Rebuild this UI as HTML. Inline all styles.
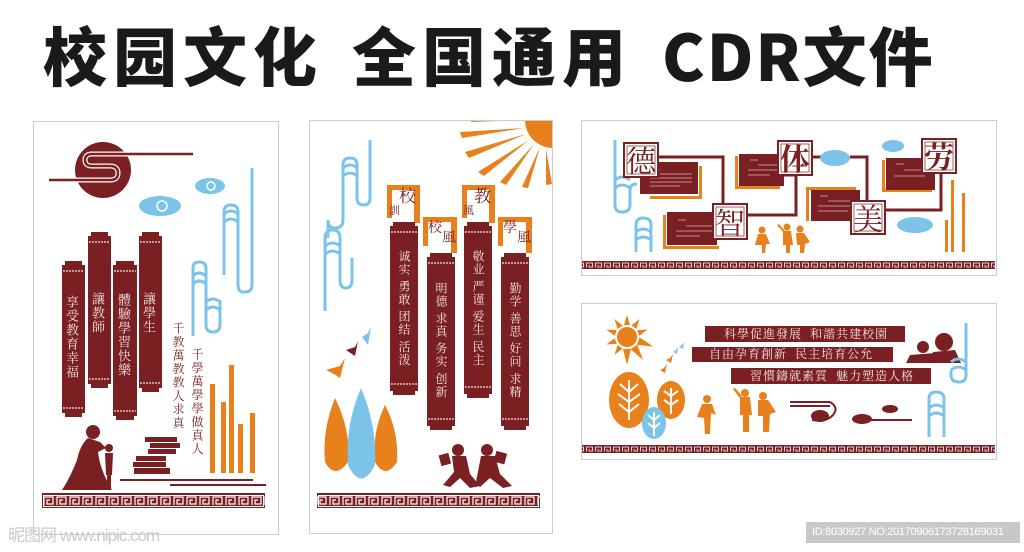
<!DOCTYPE html>
<html><head><meta charset="utf-8"><style>
body{margin:0;width:1024px;height:552px;overflow:hidden;background:#fff;position:relative;font-family:"Liberation Sans","Noto Sans CJK SC",sans-serif}
.t{position:absolute;top:17px;font-family:"Noto Sans CJK SC","WenQuanYi Zen Hei",sans-serif;font-weight:900;font-size:64px;line-height:74px;color:#1a1a1a;letter-spacing:6px;white-space:nowrap}
.v{position:absolute;writing-mode:vertical-rl;font-family:"Noto Serif CJK SC","Noto Sans CJK TC",serif;white-space:nowrap;line-height:1}
.w{color:#f3e3e3}
.r{color:#7a1f22}
.b{position:absolute;font-family:"Noto Serif CJK SC","Noto Sans CJK TC",serif;color:#f3e3e3;font-size:12px;line-height:16px;white-space:nowrap;letter-spacing:1px}
.f{position:absolute;font-family:"Noto Serif CJK SC",serif;color:#7a1f22;line-height:1}
</style></head><body>
<svg width="1024" height="552" style="position:absolute;left:0;top:0">
<defs>
<pattern id="gk" width="13" height="15" patternUnits="userSpaceOnUse" x="42" y="493">
<rect width="13" height="15" fill="#7a1f22"/><path d="M2 12V4H11V11H5V7H8" stroke="#fff" fill="none" stroke-width="1.2"/></pattern>
<pattern id="gk2" width="9" height="8" patternUnits="userSpaceOnUse" y="261">
<rect width="9" height="8" fill="#7a1f22"/><path d="M1.5 6.5V2H7.5V6H4V4" stroke="#fff" fill="none" stroke-width=".8"/></pattern>
<pattern id="gk3" width="9" height="8" patternUnits="userSpaceOnUse" y="445">
<rect width="9" height="8" fill="#7a1f22"/><path d="M1.5 6.5V2H7.5V6H4V4" stroke="#fff" fill="none" stroke-width=".8"/></pattern>
<clipPath id="p2"><rect x="310" y="121" width="242" height="412"/></clipPath>
</defs>
<rect x="33.5" y="121.5" width="245" height="413" fill="#fff" stroke="#ccc"/>
<rect x="309.5" y="120.5" width="243" height="413" fill="#fff" stroke="#ccc"/>
<rect x="581.5" y="120.5" width="415" height="155" fill="#fff" stroke="#ccc"/>
<rect x="581.5" y="303.5" width="415" height="156" fill="#fff" stroke="#ccc"/>

<circle cx="103" cy="170" r="28" fill="#7a1f22"/>
<path d="M49 180H110Q118 180 118 173Q118 166 110 166H92Q85 166 85 160Q85 154 92 154H193" stroke="#fff" stroke-width="5" fill="none"/>
<path d="M49 180H110Q118 180 118 173Q118 166 110 166H92Q85 166 85 160Q85 154 92 154H193" stroke="#7a1f22" stroke-width="2.5" fill="none"/>
<g fill="#7cc3ea"><ellipse cx="160" cy="206" rx="21" ry="10"/><ellipse cx="210" cy="186" rx="15" ry="8"/></g>
<g fill="none" stroke="#fff" stroke-width="1.5"><circle cx="162" cy="206" r="5"/><circle cx="211" cy="186" r="4"/></g>
<g fill="none" stroke="#7cc3ea" stroke-width="3">
<path d="M252 168V285Q252 292 245 292H243Q238 292 238 284V212Q238 205 231 205Q224 205 224 212V275"/>
<path d="M224 214Q231 208 238 214M224 222Q231 216 238 222"/>
<path d="M193 336V268Q193 262 199 262Q206 262 206 268V325Q206 332 213 332Q220 332 220 325V300"/>
<path d="M206 302Q213 296 220 302M206 310Q213 304 220 310"/>
<path d="M193 276Q199 270 206 276M193 284Q199 278 206 284"/>
</g>
<g fill="#e8801c">
<rect x="210" y="384" width="5" height="89"/><rect x="221" y="402" width="5" height="71"/><rect x="229" y="365" width="5" height="108"/><rect x="238" y="424" width="5" height="49"/><rect x="250" y="413" width="5" height="60"/></g>
<g fill="#7a1f22">
<rect x="65" y="261" width="17" height="5"/><rect x="62" y="265" width="23" height="148"/><rect x="65" y="412" width="17" height="5"/>
<rect x="91" y="232" width="17" height="5"/><rect x="88" y="236" width="23" height="148"/><rect x="91" y="383" width="17" height="5"/>
<rect x="116" y="261" width="18" height="5"/><rect x="113" y="265" width="24" height="151"/><rect x="116" y="415" width="18" height="5"/>
<rect x="142" y="232" width="17" height="5"/><rect x="139" y="236" width="23" height="152"/><rect x="142" y="387" width="17" height="5"/>
<circle cx="93" cy="432" r="7"/><path d="M88 438Q80 445 77 460Q70 478 62 490H112Q100 470 98 452L106 448L100 442Z"/>
<circle cx="109" cy="448" r="4"/><path d="M105 453H113L112 475H111V490H107V475H106Z"/>
<rect x="145" y="437" width="32" height="5"/><rect x="150" y="443" width="30" height="5"/><rect x="148" y="449" width="28" height="5"/><rect x="136" y="456" width="30" height="5"/><rect x="133" y="462" width="33" height="5"/><rect x="134" y="468" width="36" height="6"/>
<rect x="120" y="479" width="133" height="2"/><rect x="170" y="484" width="96" height="2"/>
</g>
<g stroke="#f3e3e3" stroke-width="1.3" stroke-dasharray="2 1">
<path d="M63 271H84M63 408H84M89 242H110M89 379H110M114 271H136M114 411H136M140 242H161M140 383H161"/></g>
<rect x="42" y="493" width="223" height="15" fill="url(#gk)"/>
<rect x="43.5" y="495.5" width="220" height="11" fill="none" stroke="#fff" stroke-width="1"/>

<g fill="#e8801c" clip-path="url(#p2)">
<circle cx="553" cy="120" r="28"/>
<polygon points="524,128 460,132 462,138"/><polygon points="526,134 465,152 469,158"/><polygon points="529,140 478,172 484,176"/><polygon points="534,144 500,182 506,185"/><polygon points="540,147 522,187 528,188"/><polygon points="546,149 546,185 552,184"/><polygon points="525,120 472,116 471,122"/>
</g>
<g fill="none" stroke="#7cc3ea" stroke-width="3">
<path d="M370 140V198Q370 205 364 205Q357 205 357 198V165Q357 158 350 158Q343 158 343 165V220Q343 228 335 228Q328 228 328 220V238"/>
<path d="M343 168Q350 162 357 168M343 176Q350 170 357 176"/>
<path d="M325 311V238Q325 230 333 230Q340 230 340 238V280Q340 288 346 288Q352 288 352 280V258"/>
<path d="M325 246Q333 240 340 246M325 254Q333 248 340 254"/>
</g>
<g fill="#e8801c"><path d="M335 398Q322 430 325 462Q335 480 348 462Q351 430 335 398Z"/><path d="M385 405Q372 432 375 462Q385 480 397 462Q399 432 385 405Z"/></g>
<path d="M361 388Q345 425 348 465Q361 492 375 465Q377 425 361 388Z" fill="#7cc3ea"/>
<g fill="#e8801c"><path d="M326 370L340 366L345 358L340 378L334 374Z"/></g>
<path d="M346 350L355 347L358 341L355 356Z" fill="#7a1f22"/>
<path d="M362 337L368 333L371 327L368 345Z" fill="#7cc3ea"/>
<g fill="#e8801c">
<path d="M387 185h33v38h-6v-33h-22v28h-5z"/><path d="M462 185h33v38h-6v-33h-22v28h-5z"/>
<path d="M423 217h34v36h-6v-31h-23v24h-5z"/><path d="M498 217h34v36h-6v-31h-23v24h-5z"/>
</g>
<g fill="#7a1f22">
<rect x="393" y="222" width="22" height="5"/><rect x="390" y="226" width="28" height="165"/><rect x="393" y="390" width="22" height="5"/>
<rect x="430" y="253" width="22" height="5"/><rect x="427" y="257" width="28" height="169"/><rect x="430" y="425" width="22" height="5"/>
<rect x="467" y="222" width="22" height="5"/><rect x="464" y="226" width="28" height="168"/><rect x="467" y="393" width="22" height="5"/>
<rect x="504" y="253" width="22" height="5"/><rect x="501" y="257" width="28" height="169"/><rect x="504" y="425" width="22" height="5"/>
<circle cx="458" cy="450" r="6"/><path d="M452 456L466 456L470 474L480 486L470 488L460 478L450 487L443 485L454 472Z"/><rect x="440" y="454" width="10" height="11" transform="rotate(-15 445 460)"/>
<circle cx="487" cy="450" r="6"/><path d="M481 456L495 456L500 474L512 486L503 488L490 478L480 487L476 482Z"/><rect x="495" y="452" width="11" height="11" transform="rotate(15 500 457)"/>
</g>
<g stroke="#f3e3e3" stroke-width="1.3" stroke-dasharray="2 1">
<path d="M391 232H417M391 384H417M428 263H454M428 419H454M465 232H491M465 387H491M502 263H528M502 419H528"/></g>
<rect x="317" y="493" width="223" height="15" fill="url(#gk)"/>
<rect x="318.5" y="495.5" width="220" height="11" fill="none" stroke="#fff" stroke-width="1"/>

<g fill="none" stroke="#7cc3ea" stroke-width="3">
<path d="M615 140V205Q615 212 622 212Q630 212 630 205V190Q630 184 637 184"/>
<path d="M615 180Q622 174 630 180M615 188Q622 182 630 188"/>
<path d="M636 252V225Q636 218 643 218Q651 218 651 225V252"/>
<path d="M636 232Q643 226 651 232M636 240Q643 234 651 240"/>
</g>
<g stroke="#7a1f22" stroke-width="3" fill="none">
<path d="M658 157H723V204M747 215H796V175H778M812 157H822M850 157H867V201M885 210H941V173"/></g>
<g fill="#7cc3ea"><ellipse cx="835" cy="158" rx="15" ry="8"/><ellipse cx="893" cy="146" rx="11" ry="6"/><ellipse cx="915" cy="225" rx="18" ry="8"/></g>
<g fill="#e8801c">
<rect x="699" y="166" width="3" height="32"/><rect x="650" y="196" width="52" height="3"/>
<rect x="735" y="156" width="3" height="32"/><rect x="735" y="186" width="45" height="3"/>
<rect x="663" y="215" width="3" height="34"/><rect x="663" y="246" width="56" height="3"/>
<rect x="806" y="187" width="3" height="34"/><rect x="806" y="187" width="50" height="3"/>
<rect x="882" y="160" width="3" height="32"/><rect x="882" y="189" width="50" height="3"/>
<rect x="945" y="220" width="3" height="32"/><rect x="951" y="180" width="3" height="72"/><rect x="962" y="193" width="3" height="59"/>
<circle cx="762" cy="230" r="3.5"/><path d="M758 234H766L770 244H766L765 253H762V245H760L755 245Z"/>
<circle cx="787" cy="227" r="3.5"/><path d="M783 231H791L793 245H790V253H786V245H783ZM783 232L777 225L779 224L785 231Z"/>
<circle cx="800" cy="229" r="3.5"/><path d="M796 233H804L810 242L805 244L804 253H800V245H797Z"/>
</g>
<g fill="#7a1f22">
<rect x="640" y="162" width="58" height="32"/><rect x="739" y="154" width="45" height="32"/><rect x="667" y="212" width="50" height="33"/><rect x="811" y="190" width="49" height="31"/><rect x="886" y="158" width="49" height="32"/>
</g>
<g stroke="#d9b3b3" stroke-width=".8">
<path d="M652 170H660M660 174H692M650 178H692M650 182H692M650 186H680M750 160H758M758 165H780M748 170H780M748 175H770M678 220H686M686 226H712M676 231H712M676 236H700M820 196H828M828 201H855M818 206H855M818 211H848M896 164H904M904 170H930M894 176H925"/></g>
<g fill="#fff" stroke="#7a1f22" stroke-width="2">
<rect x="624" y="143" width="34" height="34"/><rect x="778" y="141" width="34" height="34"/><rect x="713" y="204" width="34" height="35"/><rect x="851" y="201" width="34" height="33"/><rect x="922" y="139" width="34" height="34"/></g>
<g fill="none" stroke="#7a1f22" stroke-width=".7">
<rect x="627" y="146" width="28" height="28"/><rect x="781" y="144" width="28" height="28"/><rect x="716" y="207" width="28" height="29"/><rect x="854" y="204" width="28" height="27"/><rect x="925" y="142" width="28" height="28"/></g>
<rect x="582" y="261" width="413" height="8" fill="url(#gk2)"/>

<g fill="#e8801c">
<circle cx="627" cy="337" r="10"/>
<g transform="translate(627 337)">
<polygon points="-3,-12 0,-22 3,-12"/><polygon points="-3,-12 0,-22 3,-12" transform="rotate(35)"/><polygon points="-3,-12 0,-22 3,-12" transform="rotate(70)"/><polygon points="-4,-12 0,-28 4,-12" transform="rotate(110)"/><polygon points="-4,-12 0,-28 4,-12" transform="rotate(145)"/><polygon points="-4,-12 0,-28 4,-12" transform="rotate(180)"/><polygon points="-3,-12 0,-22 3,-12" transform="rotate(215)"/><polygon points="-3,-12 0,-22 3,-12" transform="rotate(250)"/><polygon points="-3,-12 0,-22 3,-12" transform="rotate(290)"/><polygon points="-3,-12 0,-22 3,-12" transform="rotate(325)"/></g>
<ellipse cx="629" cy="400" rx="20" ry="28"/><ellipse cx="671" cy="400" rx="14" ry="19"/>
<path d="M666 360l4-2 3-4-2 9zM660 370l4-2 3-4-2 9z"/>
<circle cx="707" cy="399" r="4"/><path d="M702 404H712L716 415L711 413L710 434H705L704 418L697 417Z"/>
<circle cx="745" cy="393" r="4"/><path d="M740 397H750L752 415H749V432H743V415H740ZM740 398L733 389L735 388L742 396Z"/>
<circle cx="763" cy="396" r="4"/><path d="M758 400H768L776 412L770 414L769 432H763V416H758Z"/>
</g>
<ellipse cx="654" cy="423" rx="12" ry="16" fill="#7cc3ea"/>
<g stroke="#fff" stroke-width="2" fill="none"><path d="M629 380V420M629 392L620 384M629 392L638 384M629 402L618 394M629 402L640 394M629 412L619 404M629 412L639 404M671 388V414M671 396L664 391M671 396L678 391M671 405L664 400M671 405L678 400M654 412V436M654 420L648 415M654 420L660 415M654 428L648 423M654 428L660 423"/></g>
<path d="M673 352l3-2 2-3-1 7zM679 347l3-2 2-3-1 7z" fill="#7cc3ea"/>
<g fill="#7a1f22">
<rect x="705" y="326" width="200" height="16"/><rect x="692" y="347" width="201" height="15"/><rect x="731" y="368" width="200" height="16"/>
<circle cx="923" cy="347" r="6"/><path d="M910 355L935 353L940 363H906Z"/><circle cx="944" cy="342" r="9"/><path d="M933 352L955 350L961 363H931Z"/>
<rect x="790" y="401" width="40" height="2"/><rect x="790" y="405" width="40" height="2"/>
<ellipse cx="820" cy="416" rx="9" ry="6"/><ellipse cx="862" cy="419" rx="10" ry="5"/><ellipse cx="890" cy="409" rx="8" ry="4"/>
<rect x="862" y="419" width="50" height="2"/>
</g>
<path d="M830 402Q840 408 832 416Q826 422 812 420" stroke="#7a1f22" stroke-width="2" fill="none"/>
<g fill="none" stroke="#7cc3ea" stroke-width="3">
<path d="M966 323V375Q966 382 959 382Q951 382 951 375V370"/>
<path d="M951 362Q958 356 966 362M951 370Q958 364 966 370"/>
<path d="M929 437V399Q929 392 936 392Q944 392 944 399V437"/>
<path d="M929 408Q936 402 944 408M929 416Q936 410 944 416"/>
</g>
<rect x="582" y="445" width="413" height="8" fill="url(#gk3)"/>

<rect x="806" y="522" width="214" height="21" fill="#c8c8c8"/>
</svg>

<div class="t" style="left:43px">校园文化</div>
<div class="t" style="left:352px">全国通用</div>
<div class="t" style="left:662px;letter-spacing:2px">CDR文件</div>

<div class="v w" style="left:66px;top:295px;font-size:13px;letter-spacing:1px">享受教育幸福</div>
<div class="v w" style="left:92px;top:292px;font-size:13px;letter-spacing:1px">讓教師</div>
<div class="v w" style="left:118px;top:293px;font-size:13px;letter-spacing:1px">體驗學習快樂</div>
<div class="v w" style="left:143px;top:292px;font-size:13px;letter-spacing:1px">讓學生</div>
<div class="v r" style="left:172px;top:322px;font-size:12px;letter-spacing:1.5px">千教萬教教人求真</div>
<div class="v r" style="left:191px;top:348px;font-size:12px;letter-spacing:1.5px">千學萬學學做真人</div>

<div class="f" style="left:399px;top:186px;font-size:17px">校</div><div class="f" style="left:389px;top:205px;font-size:11px">訓</div>
<div class="f" style="left:474px;top:186px;font-size:17px">教</div><div class="f" style="left:463px;top:205px;font-size:11px">風</div>
<div class="f" style="left:428px;top:220px;font-size:14px">校<span style="position:relative;top:10px">風</span></div>
<div class="f" style="left:503px;top:220px;font-size:14px">學<span style="position:relative;top:10px">風</span></div>
<div class="v w" style="left:398px;top:250px;font-size:12px;letter-spacing:1px">诚实 勇敢 团结 活泼</div>
<div class="v w" style="left:435px;top:282px;font-size:12px;letter-spacing:1px">明德 求真 务实 创新</div>
<div class="v w" style="left:472px;top:250px;font-size:12px;letter-spacing:1px">敬业 严谨 爱生 民主</div>
<div class="v w" style="left:509px;top:282px;font-size:12px;letter-spacing:1px">勤学 善思 好问 求精</div>

<div class="f" style="left:626px;top:144px;font-size:30px">德</div>
<div class="f" style="left:780px;top:142px;font-size:30px;font-weight:bold">体</div>
<div class="f" style="left:715px;top:206px;font-size:30px">智</div>
<div class="f" style="left:853px;top:202px;font-size:30px">美</div>
<div class="f" style="left:924px;top:140px;font-size:30px;font-weight:bold">劳</div>

<div class="b" style="left:724px;top:326px">科學促進發展&nbsp;&nbsp;和諧共建校園</div>
<div class="b" style="left:709px;top:346px">自由孕育創新&nbsp;&nbsp;民主培育公允</div>
<div class="b" style="left:750px;top:368px">習慣鑄就素質&nbsp;&nbsp;魅力塑造人格</div>

<div style="position:absolute;left:8px;top:521px;font-size:17px;color:#c9c9c9;font-family:'Liberation Sans','Noto Sans CJK SC',sans-serif;letter-spacing:-1px">昵图网 www.nipic.com</div>
<div style="position:absolute;left:812px;top:526px;font-size:11px;color:#fff;letter-spacing:-0.3px">ID:8030927 NO:20170906173728169031</div>
</body></html>
